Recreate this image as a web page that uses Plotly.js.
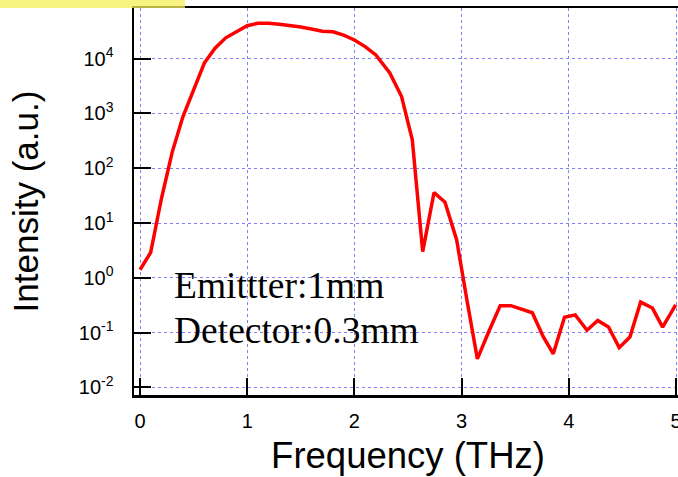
<!DOCTYPE html>
<html>
<head>
<meta charset="utf-8">
<script src="https://cdn.plot.ly/plotly-3.0.1.min.js"></script>
<style>
  html, body { margin: 0; padding: 0; background: #ffffff; overflow: hidden; width: 678px; height: 477px; }
  #chart { width: 700px; height: 477px; }
</style>
</head>
<body>
<div id="chart"></div>
<script>
// Frequency (THz)
const frequency = [0, 0.1, 0.2, 0.3, 0.4, 0.5, 0.6, 0.7, 0.8, 0.9, 1.0, 1.1, 1.2, 1.3, 1.4, 1.5, 1.6, 1.7, 1.8, 1.9, 2.0, 2.1, 2.2, 2.33, 2.44, 2.54, 2.637, 2.743, 2.845, 2.954, 3.05, 3.147, 3.25, 3.36, 3.46, 3.56, 3.66, 3.76, 3.855, 3.96, 4.06, 4.17, 4.27, 4.37, 4.47, 4.57, 4.67, 4.78, 4.875, 4.997];
// Intensity (a.u.)
const intensity = [1.4, 2.9, 28, 195, 870, 2700, 8300, 15500, 24000, 31000, 40000, 44300, 44300, 42700, 40700, 38000, 34700, 31600, 30900, 26900, 21900, 16600, 11700, 5500, 2040, 330, 3.0, 36, 24, 4.9, 0.39, 0.033, 0.1, 0.31, 0.31, 0.27, 0.23, 0.085, 0.041, 0.19, 0.21, 0.11, 0.166, 0.126, 0.053, 0.083, 0.36, 0.28, 0.126, 0.32];

const xTickVals = [0, 1, 2, 3, 4, 5];
const xTickText = ['0', '1', '2', '3', '4', '5'];
const yTickVals = [0.01, 0.1, 1, 10, 100, 1000, 10000];
const yTickText = ['10<sup>-2</sup>', '10<sup>-1</sup>', '10<sup>0</sup>', '10<sup>1</sup>', '10<sup>2</sup>', '10<sup>3</sup>', '10<sup>4</sup>'];

const labelLines = ['Emittter:1mm', 'Detector:0.3mm'];

const trace = {
  x: frequency,
  y: intensity,
  type: 'scatter',
  mode: 'lines',
  line: { color: '#ff0000', width: 3.5 },
  hoverinfo: 'skip'
};

const gridStyle = { gridcolor: '#8080ff', griddash: 'dot', gridwidth: 1 };

const layout = {
  width: 700,
  height: 477,
  margin: { l: 134, r: 18, t: 8, b: 82 },
  paper_bgcolor: '#ffffff',
  plot_bgcolor: '#ffffff',
  showlegend: false,
  font: { family: 'Liberation Sans, Arial, sans-serif', color: '#000000', size: 20 },
  xaxis: Object.assign({
    range: [-0.056, -0.056 + 548 / 107.2],
    tickmode: 'array',
    tickvals: xTickVals,
    ticktext: xTickText,
    ticks: 'inside',
    ticklen: 17,
    tickwidth: 2,
    tickcolor: '#000000',
    showline: true,
    linecolor: '#000000',
    linewidth: 2.5,
    mirror: true,
    zeroline: false,
    showgrid: true,
    ticklabelstandoff: 6,
    tickfont: { size: 20, family: 'Liberation Sans, Arial, sans-serif' },
    title: { text: 'Frequency (THz)', font: { size: 36.5, family: 'Liberation Sans, Arial, sans-serif' }, standoff: 12 }
  }, gridStyle),
  yaxis: Object.assign({
    type: 'log',
    range: [-2.14, 4.925],
    tickmode: 'array',
    tickvals: yTickVals,
    ticktext: yTickText,
    ticks: 'inside',
    ticklen: 17,
    tickwidth: 2,
    tickcolor: '#000000',
    showline: true,
    linecolor: '#000000',
    linewidth: 2.5,
    mirror: false,
    zeroline: false,
    showgrid: true,
    ticklabelstandoff: 14,
    tickfont: { size: 20, family: 'Liberation Sans, Arial, sans-serif' },
    title: { text: 'Intensity (a.u.)', font: { size: 35, family: 'Liberation Sans, Arial, sans-serif' }, standoff: 30 }
  }, gridStyle),
  annotations: [
    {
      text: labelLines[0], xref: 'x', yref: 'paper', x: 0.30, y: (395 - 285) / 387,
      xanchor: 'left', yanchor: 'middle', showarrow: false,
      font: { family: 'Liberation Serif, Times New Roman, serif', size: 37.5, color: '#000000' }
    },
    {
      text: labelLines[1], xref: 'x', yref: 'paper', x: 0.30, y: (395 - 330) / 387,
      xanchor: 'left', yanchor: 'middle', showarrow: false,
      font: { family: 'Liberation Serif, Times New Roman, serif', size: 37.5, color: '#000000' }
    }
  ],
  shapes: [
    {
      type: 'rect', xref: 'paper', yref: 'paper',
      x0: -134 / 548, x1: (185 - 134) / 548, y0: 1.0, y1: 1 + 8 / 387,
      fillcolor: 'rgba(245,240,90,0.75)', line: { width: 0 }, layer: 'above'
    }
  ]
};

Plotly.newPlot('chart', [trace], layout, { displayModeBar: false, staticPlot: true });
</script>
</body>
</html>
